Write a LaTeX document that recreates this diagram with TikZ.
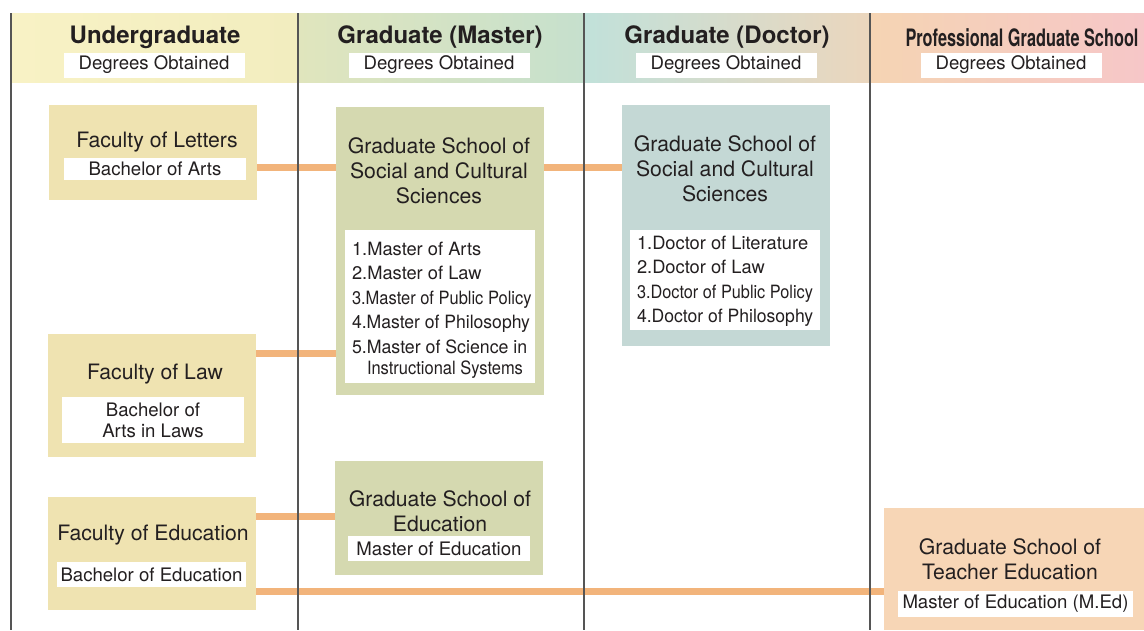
\documentclass[tikz,border=0pt]{standalone}
\usepackage{fontspec}
\usepackage{graphicx}
\setmainfont{TeX Gyre Heros}
\definecolor{txt}{HTML}{231F20}
\definecolor{facC}{HTML}{EFE3B1}
\definecolor{masC}{HTML}{D5D9B0}
\definecolor{docC}{HTML}{C4D8D5}
\definecolor{proC}{HTML}{F7D6B6}
\definecolor{connC}{HTML}{F2B47B}
\definecolor{lineC}{HTML}{555555}
\definecolor{hA}{HTML}{F8F2C5}
\definecolor{hB}{HTML}{F2EDBF}
\definecolor{hC}{HTML}{E0E5BD}
\definecolor{hD}{HTML}{C6E0CD}
\definecolor{hE}{HTML}{C1E1DA}
\definecolor{hF}{HTML}{EBD6BD}
\definecolor{hG}{HTML}{F5D4B3}
\definecolor{hH}{HTML}{F6C7C8}
\begin{document}
\begin{tikzpicture}[x=1pt,y=-1pt,
  every node/.style={text=txt,inner sep=0pt,outer sep=0pt},
  hdr/.style={font=\fontsize{24}{28}\selectfont\bfseries},
  deg/.style={fill=white,minimum width=181pt,minimum height=25pt,font=\fontsize{18.6}{22}\selectfont},
  boxf/.style={fill=facC},
  boxm/.style={fill=masC},
  boxd/.style={fill=docC},
  boxp/.style={fill=proC},
  ttl/.style={align=center,font=\fontsize{21.2}{24.8}\selectfont},
  wbox/.style={fill=white,font=\fontsize{18.6}{21}\selectfont,align=center},
  item/.style={anchor=west,font=\fontsize{18.3}{21}\selectfont,text height=13pt,text depth=0pt},
  conn/.style={draw=connC,line width=7pt},
  vline/.style={draw=lineC,line width=1.1pt}
]
\useasboundingbox (0,0) rectangle (1144,630);
% header band
\shade[left color=hA, right color=hB] (11,13) rectangle (298,82);
\shade[left color=hC, right color=hD] (298,13) rectangle (584,82);
\shade[left color=hE, right color=hF] (584,13) rectangle (870,82);
\shade[left color=hG, right color=hH] (870,13) rectangle (1144,82);

\node[hdr] (h1) at (155,37.5) {Undergraduate};
\node[hdr] (h2) at (440,37.5) {Graduate (Master)};
\node[hdr] (h3) at (727,37.5) {Graduate (Doctor)};
\node[hdr] (h4) at (1022,37.5) {\scalebox{0.68}[1]{Professional Graduate School}};
\node[deg] (d1) at (154,65) {Degrees Obtained};
\node[deg] (d2) at (439,65) {Degrees Obtained};
\node[deg] (d3) at (726,65) {Degrees Obtained};
\node[deg] (d4) at (1011,65) {Degrees Obtained};

% undergraduate faculties
\node[boxf,minimum width=208pt,minimum height=95pt] (letters) at (153,152.5) {};
\node[ttl] (lettersT) at (157,142.5) {Faculty of Letters};
\node[wbox,minimum width=182pt,minimum height=22pt] (lettersD) at (155,169) {Bachelor of Arts};

\node[boxf,minimum width=208pt,minimum height=123pt] (law) at (152,395.5) {};
\node[ttl] (lawT) at (155,374) {Faculty of Law};
\node[wbox,minimum width=182pt,minimum height=46pt] (lawD) at (153,420) {Bachelor of\\Arts in Laws};

\node[boxf,minimum width=208pt,minimum height=113pt] (edu) at (152,553.5) {};
\node[ttl] (eduT) at (153,535) {Faculty of Education};
\node[wbox,minimum width=189pt,minimum height=25pt] (eduD) at (151.5,574.5) {Bachelor of Education};

% master
\node[boxm,minimum width=208pt,minimum height=288pt] (gssM) at (440,251) {};
\node[ttl] (gssMT) at (439,171) {Graduate School of\\Social and Cultural\\Sciences};
\node[fill=white,minimum width=190pt,minimum height=153pt] (gssML) at (440,306.5) {};
\node[item] (m1) at (352,249) {1.Master of Arts};
\node[item] (m2) at (352,273) {2.Master of Law};
\node[item] (m3) at (352,298) {\scalebox{0.9}[1]{3.Master of Public Policy}};
\node[item] (m4) at (352,322) {\scalebox{0.96}[1]{4.Master of Philosophy}};
\node[item] (m5) at (352,347) {\scalebox{0.97}[1]{5.Master of Science in}};
\node[item] (m6) at (367,368) {\scalebox{0.9}[1]{Instructional Systems}};

\node[boxm,minimum width=208pt,minimum height=114pt] (gseM) at (439,518) {};
\node[ttl] (gseMT) at (440,511) {Graduate School of\\Education};
\node[wbox,minimum width=182pt,minimum height=25pt] (gseMD) at (439,548.5) {Master of Education};

% doctor
\node[boxd,minimum width=208pt,minimum height=241pt] (gssD) at (726,225.5) {};
\node[ttl] (gssDT) at (725,169) {Graduate School of\\Social and Cultural\\Sciences};
\node[fill=white,minimum width=190pt,minimum height=100pt] (gssDL) at (725,280) {};
\node[item] (dd1) at (637,243) {1.Doctor of Literature};
\node[item] (dd2) at (637,267) {2.Doctor of Law};
\node[item] (dd3) at (637,292) {\scalebox{0.89}[1]{3.Doctor of Public Policy}};
\node[item] (dd4) at (637,316) {\scalebox{0.96}[1]{4.Doctor of Philosophy}};

% professional
\node[boxp,minimum width=260pt,minimum height=122pt] (tch) at (1014,569) {};
\node[ttl] (tchT) at (1010,559) {Graduate School of\\Teacher Education};
\node[wbox,minimum width=235pt,minimum height=26pt] (tchD) at (1015.5,604) {Master of Education (M.Ed)};

% connectors
\coordinate (y1) at (0,167);
\coordinate (y2) at (0,353);
\coordinate (y3) at (0,516);
\coordinate (y4) at (0,591);
\draw[conn] (letters.east |- y1) -- (gssM.west |- y1);
\draw[conn] (gssM.east |- y1) -- (gssD.west |- y1);
\draw[conn] (law.east |- y2) -- (gssM.west |- y2);
\draw[conn] (edu.east |- y3) -- (gseM.west |- y3);
\draw[conn] (edu.east |- y4) -- (tch.west |- y4);

% column lines
\coordinate (t1) at (11,13);   \coordinate (b1) at (11,630);
\coordinate (t2) at (298,13);  \coordinate (b2) at (298,630);
\coordinate (t3) at (584,13);  \coordinate (b3) at (584,630);
\coordinate (t4) at (870,13);  \coordinate (b4) at (870,630);
\draw[vline] (t1) -- (b1);
\draw[vline] (t2) -- (b2);
\draw[vline] (t3) -- (b3);
\draw[vline] (t4) -- (b4);
\end{tikzpicture}
\end{document}
